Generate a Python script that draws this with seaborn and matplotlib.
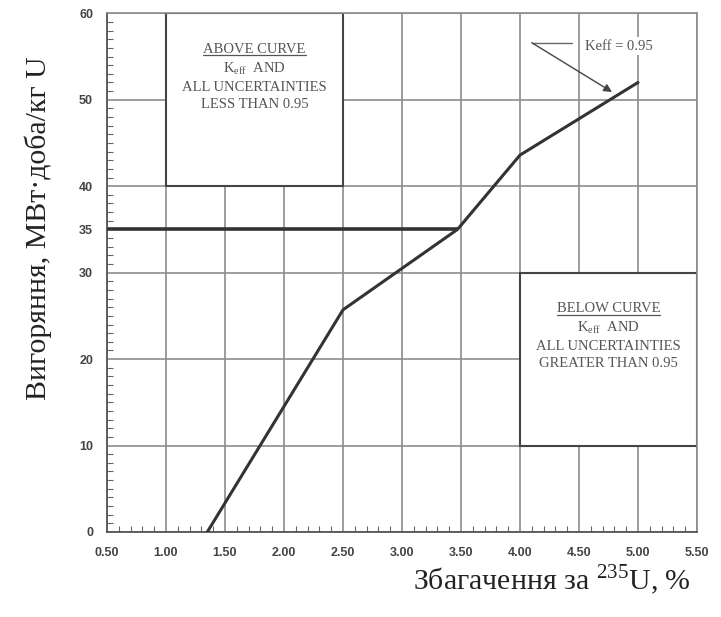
import matplotlib
matplotlib.use("Agg")
import matplotlib.pyplot as plt
import numpy as np
import pandas as pd
import seaborn as sns
from matplotlib.patches import Rectangle
from matplotlib.ticker import MultipleLocator

# крива Keff = 0.95
enrich = [1.35, 2.5, 3.47, 4.0, 5.0]
burnup = [0.0, 25.7, 35.0, 43.6, 52.0]

# горизонтальна лінія 35 МВт·доба/кг U
limit_x = [0.5, 3.47]
limit_y = [35.0, 35.0]

x_ticks = [0.5, 1.0, 1.5, 2.0, 2.5, 3.0, 3.5, 4.0, 4.5, 5.0, 5.5]
y_ticks = [0, 10, 20, 30, 35, 40, 50, 60]

curve = pd.DataFrame({"x": enrich, "y": burnup})
limit = pd.DataFrame({"x": limit_x, "y": limit_y})

sns.set_theme(style="white")
plt.rcParams['font.family'] = ['Liberation Serif', 'DejaVu Serif']
plt.rcParams['mathtext.fontset'] = 'custom'
plt.rcParams['mathtext.rm'] = 'Liberation Serif'

fig = plt.figure(figsize=(7.21, 6.17), dpi=100)
ax = fig.add_axes([0.1484, 0.1378, 0.8183, 0.8406])

ax.set_xlim(0.5, 5.5)
ax.set_ylim(0, 60)
ax.set_xticks(x_ticks)
ax.set_yticks(y_ticks)
ax.set_xticklabels([f"{v:.2f}" for v in x_ticks])
ax.set_yticklabels([str(v) for v in y_ticks])
ax.xaxis.set_minor_locator(MultipleLocator(0.1))
ax.yaxis.set_minor_locator(MultipleLocator(1))

# сітка
ax.grid(True, which='major', color='#8c8c8c', linewidth=1.2, zorder=0)
ax.yaxis.get_gridlines()[4].set_visible(False)  # без лінії на 35
ax.set_axisbelow(True)

for lab in ax.get_xticklabels() + ax.get_yticklabels():
    lab.set_family(['Liberation Sans'])
    lab.set_fontweight('bold')
    lab.set_fontsize(9)
    lab.set_color('#444444')
ax.tick_params(axis='both', which='major', length=0, pad=10)
ax.tick_params(axis='x', which='major', pad=11)
ax.tick_params(axis='both', which='minor', direction='in', length=4,
               width=0.8, color='#666666')
ax.tick_params(axis='x', which='minor', bottom=True, top=False)
ax.tick_params(axis='y', which='minor', left=True, right=False)

for side in ['left', 'bottom']:
    ax.spines[side].set_color('#555555')
    ax.spines[side].set_linewidth(1.3)
for side in ['top', 'right']:
    ax.spines[side].set_color('#8c8c8c')
    ax.spines[side].set_linewidth(1.2)

# рамки з поясненнями
ax.add_patch(Rectangle((1.0, 40), 1.5, 20, facecolor='white',
                       edgecolor='#444444', linewidth=1.5, zorder=2))
ax.add_patch(Rectangle((4.0, 10), 1.5, 20, facecolor='white',
                       edgecolor='#444444', linewidth=1.5, zorder=2))

sns.lineplot(data=limit, x="x", y="y", ax=ax, color='#333333', linewidth=2.6,
             zorder=4)
sns.lineplot(data=curve, x="x", y="y", ax=ax, color='#333333', linewidth=2.2,
             zorder=4)
ax.set_xlabel("")
ax.set_ylabel("")

box_kw = dict(ha='center', va='baseline', fontsize=10.5, color='#555555',
              zorder=5)


def box_text(cx, base, lines):
    ys = [base, base - 2.2, base - 4.35, base - 6.3]
    texts = []
    for s, y in zip(lines, ys):
        texts.append(ax.text(cx, y, s, **box_kw))
    return texts


t1 = box_text(1.75, 55.4, ["ABOVE CURVE", r"K$_{\rm eff}$  AND",
                           "ALL UNCERTAINTIES", "LESS THAN 0.95"])
t2 = box_text(4.75, 25.4, ["BELOW CURVE", r"K$_{\rm eff}$  AND",
                           "ALL UNCERTAINTIES", "GREATER THAN 0.95"])

# підкреслення заголовків
fig.canvas.draw()
renderer = fig.canvas.get_renderer()
inv = ax.transData.inverted()
for t in (t1[0], t2[0]):
    bb = t.get_window_extent(renderer)
    x0, _ = inv.transform((bb.x0, bb.y0))
    x1, _ = inv.transform((bb.x1, bb.y0))
    yb = t.get_position()[1] - 0.25
    ax.plot([x0, x1], [yb, yb], color='#555555', lw=0.9, zorder=5)

# виноска Keff = 0.95
ax.plot([4.10, 4.44], [56.6, 56.6], color='#666666', lw=1.0, zorder=5)
ax.annotate("", xy=(4.78, 50.9), xytext=(4.10, 56.6),
            arrowprops=dict(arrowstyle='-|>', color='#444444', lw=1.0,
                            mutation_scale=12, shrinkA=0, shrinkB=0),
            zorder=5)
ax.text(4.55, 56.2, "Keff = 0.95", ha='left', va='center', fontsize=10.5,
        color='#555555', zorder=5,
        bbox=dict(facecolor='white', edgecolor='none', pad=2))

fig.text(0.053, 0.63, "Вигоряння, МВт·доба/кг U", rotation=90,
         ha='center', va='center', fontsize=21.5, color='#222222')
fig.text(0.765, 0.06, r"Збагачення за $^{235}$U, %", ha='center',
         va='center', fontsize=21.5, color='#222222')

fig.savefig("out.png", dpi=100)
